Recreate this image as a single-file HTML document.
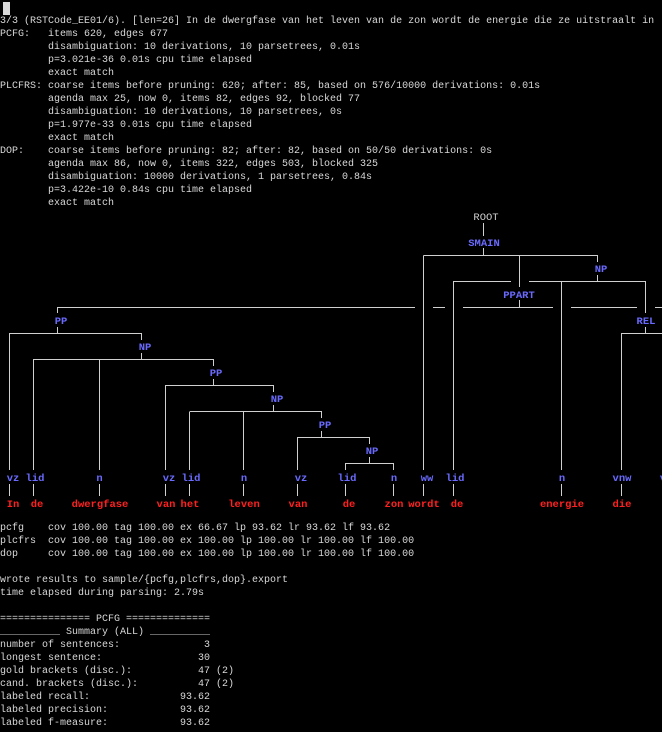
<!DOCTYPE html>
<html><head><meta charset="utf-8"><style>
html,body{margin:0;padding:0;background:#000;width:662px;height:732px;overflow:hidden;position:relative}
pre{position:absolute;left:0;margin:0;font-family:"Liberation Mono",monospace;font-size:10px;line-height:13px;color:#d8d8d8;white-space:pre}
svg{position:absolute;left:0;top:0}
.cur{position:absolute;left:3px;top:2px;width:7px;height:13px;background:#d8d8d8}
</style></head><body>
<div class="cur"></div>
<pre style="top:15px">3/3 (RSTCode_EE01/6). [len=26] In de dwergfase van het leven van de zon wordt de energie die ze uitstraalt in [
PCFG:   items 620, edges 677
        disambiguation: 10 derivations, 10 parsetrees, 0.01s
        p=3.021e-36 0.01s cpu time elapsed
        exact match
PLCFRS: coarse items before pruning: 620; after: 85, based on 576/10000 derivations: 0.01s
        agenda max 25, now 0, items 82, edges 92, blocked 77
        disambiguation: 10 derivations, 10 parsetrees, 0s
        p=1.977e-33 0.01s cpu time elapsed
        exact match
DOP:    coarse items before pruning: 82; after: 82, based on 50/50 derivations: 0s
        agenda max 86, now 0, items 322, edges 503, blocked 325
        disambiguation: 10000 derivations, 1 parsetrees, 0.84s
        p=3.422e-10 0.84s cpu time elapsed
        exact match</pre>
<svg width="662" height="732" font-family="Liberation Mono, monospace" font-size="10.5" font-weight="bold" text-anchor="middle">
<g stroke="#d0d0d0" stroke-width="1" fill="none">
<path d="M483.5 223V236 M483.5 248V255.5 M423.5 255.5H598 M423.5 255.5V470 M519.5 255.5V287 M597.5 255.5V262
M597.5 275V281.5 M453 281.5H511 M529 281.5H646 M453.5 281.5V470 M561.5 281.5V470 M645.5 281.5V313
M519.5 300V307.5 M57 307.5H415 M433 307.5H445 M463 307.5H553 M571 307.5H637 M655 307.5H662 M57.5 307.5V313
M57.5 327V333.5 M9 333.5H142 M9.5 333.5V470 M141.5 333.5V340
M141.5 353V359.5 M33 359.5H214 M33.5 359.5V470 M99.5 359.5V470 M213.5 359.5V366
M213.5 379V385.5 M165 385.5H274 M165.5 385.5V470 M273.5 385.5V392
M273.5 405V411.5 M190 411.5H322 M189.5 411.5V470 M243.5 411.5V470 M321.5 411.5V418
M321.5 431V437.5 M297 437.5H370 M297.5 437.5V470 M369.5 437.5V444
M369.5 457V463.5 M345 463.5H394 M345.5 463.5V470 M393.5 463.5V470
M645.5 327V333.5 M621 333.5H662 M621.5 333.5V470
M9.5 484V496 M33.5 484V496 M99.5 484V496 M165.5 484V496 M189.5 484V496 M243.5 484V496 M297.5 484V496 M345.5 484V496 M393.5 484V496 M423.5 484V496 M453.5 484V496 M561.5 484V496 M621.5 484V496"/>
</g>
<text x="486" y="220" fill="#d0d0d0" font-weight="normal">ROOT</text>
<g fill="#6a6aff">
<text x="484" y="246">SMAIN</text>
<text x="601" y="272">NP</text>
<text x="519" y="298">PPART</text>
<text x="61" y="324">PP</text>
<text x="646" y="324">REL</text>
<text x="145" y="350">NP</text>
<text x="216" y="376">PP</text>
<text x="277" y="402">NP</text>
<text x="325" y="428">PP</text>
<text x="372" y="454">NP</text>
<text x="13" y="481">vz</text><text x="35" y="481">lid</text><text x="99.5" y="481">n</text>
<text x="169" y="481">vz</text><text x="191" y="481">lid</text><text x="244" y="481">n</text>
<text x="301" y="481">vz</text><text x="347" y="481">lid</text><text x="394" y="481">n</text>
<text x="427" y="481">ww</text><text x="455" y="481">lid</text><text x="562" y="481">n</text>
<text x="622" y="481">vnw</text><text x="663" y="481">v</text>
</g>
<g fill="#ff2020">
<text x="13" y="507">In</text><text x="37" y="507">de</text><text x="100" y="507">dwergfase</text>
<text x="166" y="507">van</text><text x="190" y="507">het</text><text x="244" y="507">leven</text>
<text x="298" y="507">van</text><text x="349" y="507">de</text><text x="394" y="507">zon</text>
<text x="424" y="507">wordt</text><text x="457" y="507">de</text><text x="562" y="507">energie</text>
<text x="622" y="507">die</text>
</g>
</svg>
<pre style="top:522px">pcfg    cov 100.00 tag 100.00 ex 66.67 lp 93.62 lr 93.62 lf 93.62
plcfrs  cov 100.00 tag 100.00 ex 100.00 lp 100.00 lr 100.00 lf 100.00
dop     cov 100.00 tag 100.00 ex 100.00 lp 100.00 lr 100.00 lf 100.00

wrote results to sample/{pcfg,plcfrs,dop}.export
time elapsed during parsing: 2.79s

=============== PCFG ==============
__________ Summary (ALL) __________
number of sentences:              3
longest sentence:                30
gold brackets (disc.):           47 (2)
cand. brackets (disc.):          47 (2)
labeled recall:               93.62
labeled precision:            93.62
labeled f-measure:            93.62</pre>
</body></html>
